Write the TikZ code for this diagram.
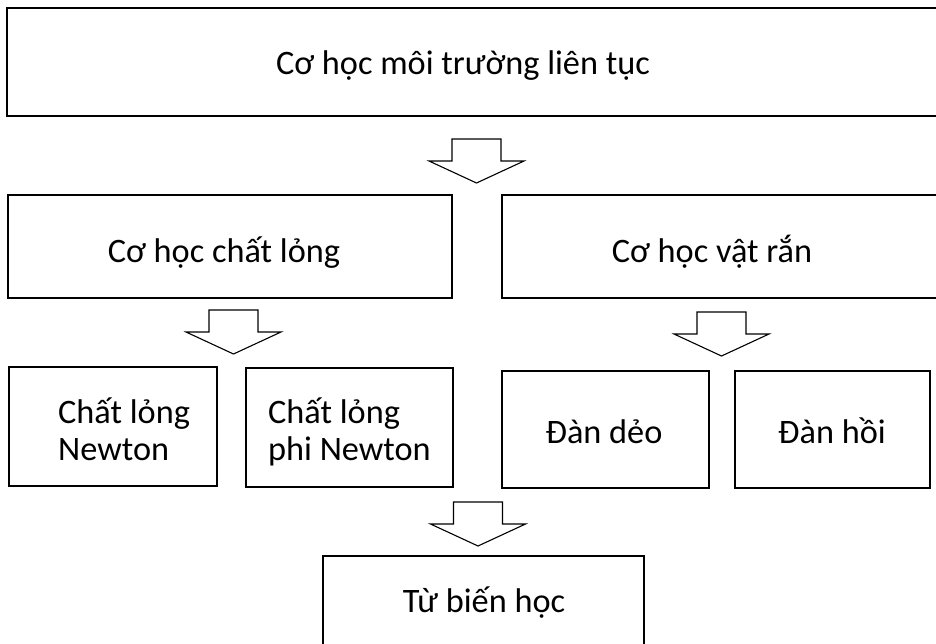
\documentclass[tikz,border=0pt]{standalone}
\usepackage{fontspec}
\setmainfont{Carlito}
\usepackage{tikz}

\tikzset{
    box/.style={draw=black, line width=1.6pt, rectangle, anchor=north west, outer sep=0pt, inner sep=0pt},
    txt/.style={font=\fontsize{34.3}{37}\selectfont, inner sep=0pt},
    blockarrow/.style={draw=black, line width=1.1pt, line join=miter, fill=white}
}

\begin{document}
\begin{tikzpicture}[x=1pt, y=-1pt]
    \clip (0,0) rectangle (936,643);
    \fill[white] (0,0) rectangle (936,643);

    % Top level
    \node[box, minimum width=953, minimum height=108] (continuum) at (7,8) {};
    \node[txt, anchor=base] (continuumtxt) at (463,74) {Cơ học môi trường liên tục};

    % Second level
    \node[box, minimum width=444, minimum height=103] (fluid) at (8,195) {};
    \node[txt, anchor=base] (fluidtxt) at (224,262) {Cơ học chất lỏng};
    \node[box, minimum width=458, minimum height=103] (solid) at (502,195) {};
    \node[txt, anchor=base] (solidtxt) at (712,262) {Cơ học vật rắn};

    % Third level
    \node[box, minimum width=208, minimum height=119] (newtonian) at (9,367) {};
    \node[txt, anchor=base west, align=left] (newtoniantxt) at (58,460) {Chất lỏng\\Newton};
    \node[box, minimum width=207, minimum height=119] (nonnewtonian) at (246,368) {};
    \node[txt, anchor=base west, align=left] (nonnewtoniantxt) at (268,460) {Chất lỏng\\phi Newton};
    \node[box, minimum width=207, minimum height=117] (plastic) at (502,371) {};
    \node[txt, anchor=base] (plastictxt) at (604,443) {Đàn dẻo};
    \node[box, minimum width=195, minimum height=117] (elastic) at (735,371) {};
    \node[txt, anchor=base] (elastictxt) at (832,443) {Đàn hồi};

    % Bottom level
    \node[box, minimum width=321, minimum height=130] (rheology) at (323,556) {};
    \node[txt, anchor=base] (rheologytxt) at (484,612) {Từ biến học};

    % Block arrows
    \foreach \ax/\ay in {476.5/139, 233.5/310, 721.5/312, 478/502}
        \draw[blockarrow] ({\ax-24.5},\ay) -- ({\ax+24.5},\ay) -- ({\ax+24.5},\ay+22)
            -- ({\ax+47.5},\ay+22) -- (\ax,\ay+44) -- ({\ax-47.5},\ay+22)
            -- ({\ax-24.5},\ay+22) -- cycle;
\end{tikzpicture}
\end{document}
